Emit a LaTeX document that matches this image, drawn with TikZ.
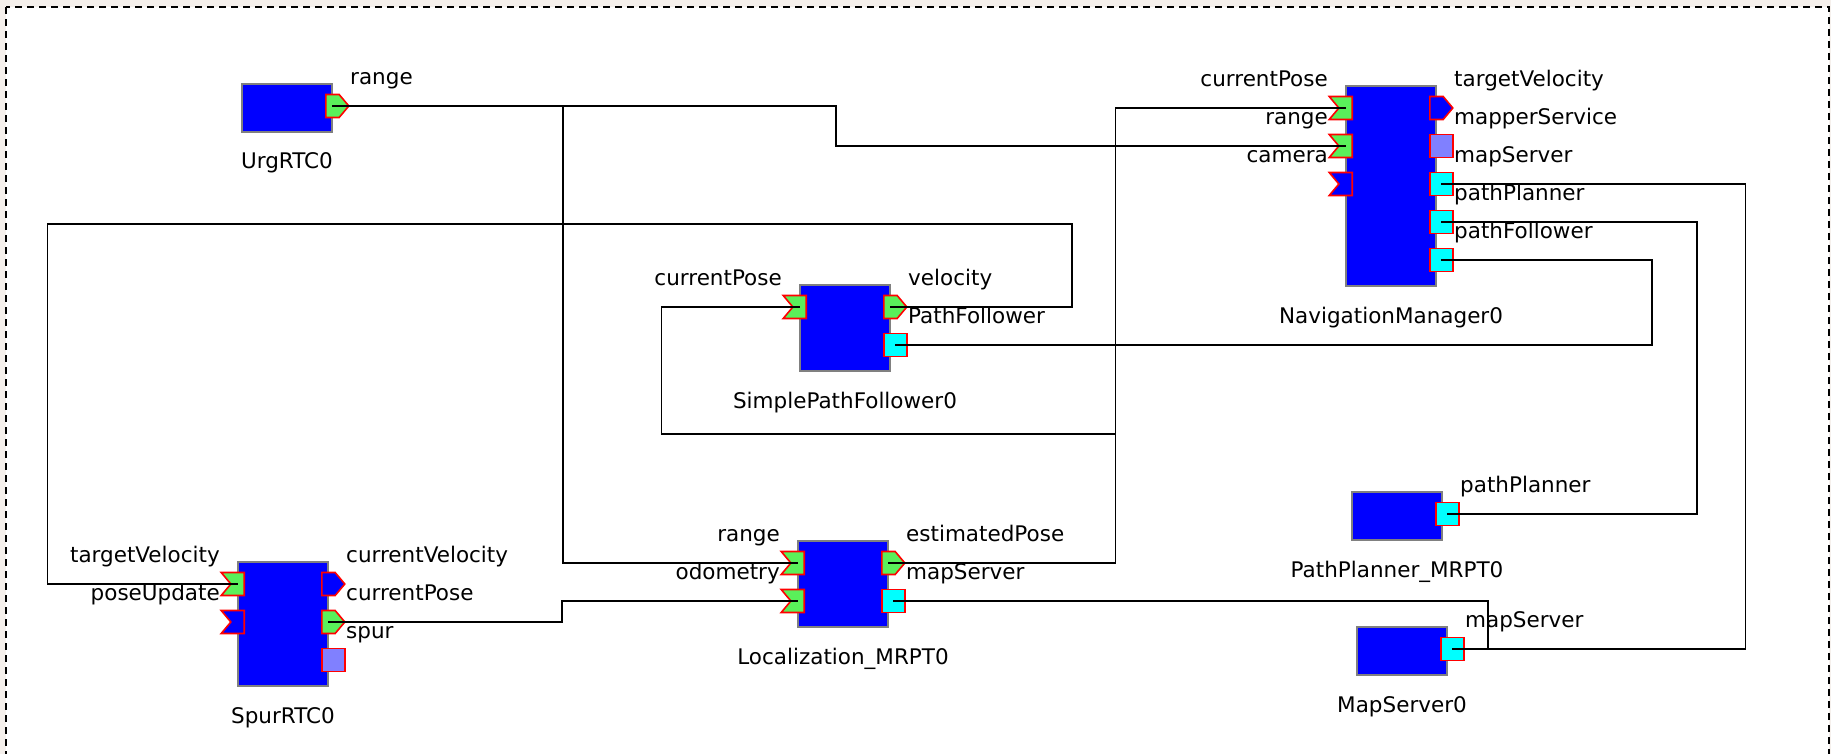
\documentclass[tikz,border=0pt]{standalone}
\usepackage{fontspec}
\setmainfont{DejaVu Sans}
\usepackage{xcolor}
\usepackage{tikz}
\usetikzlibrary{positioning,calc,shapes.symbols}

\definecolor{rtcblue}{RGB}{0,0,255}
\definecolor{rtcedge}{RGB}{128,128,128}
\definecolor{dpgreen}{RGB}{90,240,90}
\definecolor{svccyan}{RGB}{0,255,255}
\definecolor{idlelav}{RGB}{128,128,255}
\definecolor{canvas}{RGB}{245,240,236}

\begin{document}
\begin{tikzpicture}[
  x=1pt, y=-1pt,  % screen pixels, y grows downward
  every node/.style={font=\fontsize{21.5}{26}\selectfont},
  comp/.style={draw=rtcedge, line width=2pt, fill=rtcblue, anchor=north west,
               minimum width=90pt, inner sep=0pt},
  port/.style={draw=red, line width=1.6pt, inner sep=0pt,
               minimum width=23pt, minimum height=23pt},
  inp/.style={port, signal, signal to=nowhere, signal from=west,
              signal pointer angle=100, fill=dpgreen, anchor=east},
  inpidle/.style={inp, fill=rtcblue},
  outp/.style={port, signal, signal to=east, signal pointer angle=100,
               fill=dpgreen, anchor=west},
  outpidle/.style={outp, fill=rtcblue},
  svc/.style={port, fill=svccyan, anchor=west},
  svcidle/.style={svc, fill=idlelav},
  lin/.style={anchor=base east, inner sep=0pt},
  lout/.style={anchor=base west, inner sep=0pt},
  cname/.style={anchor=base, inner sep=0pt},
  wire/.style={line width=1.6pt},
]
  %% canvas + dashed system frame
  \useasboundingbox (0,0) rectangle (1831,754);
  \fill[canvas] (0,0) rectangle (1831,754);
  \clip (0,0) rectangle (1831,754);
  \draw[fill=white, line width=2pt, dash pattern=on 7pt off 5pt]
    (6,7) rectangle (1829,790);

  %% UrgRTC0
  \node[comp, minimum height=48pt] (urg) at (241,83) {};
  \node[cname] at ($(urg.south)+(0,36)$) {UrgRTC0};
  \node[outp] (urgRng) at ($(urg.north east)+(-8,23)$) {};
  \node[lout] at ($(urgRng.west)+(25,-21.5)$) {range};

  %% NavigationManager0
  \node[comp, minimum height=200pt] (nav) at (1345,85) {};
  \node[cname] at ($(nav.south)+(0,36)$) {NavigationManager0};
  \node[inp] (navCur) at ($(nav.north west)+(8,23)$) {};
  \node[lin] at ($(navCur.east)+(-25,-21.5)$) {currentPose};
  \node[inp] (navRng) at ($(nav.north west)+(8,61)$) {};
  \node[lin] at ($(navRng.east)+(-25,-21.5)$) {range};
  \node[inpidle] (navCam) at ($(nav.north west)+(8,99)$) {};
  \node[lin] at ($(navCam.east)+(-25,-21.5)$) {camera};
  \node[outpidle] (navTgt) at ($(nav.north east)+(-8,23)$) {};
  \node[lout] at ($(navTgt.west)+(25,-21.5)$) {targetVelocity};
  \node[svcidle] (navMps) at ($(nav.north east)+(-8,61)$) {};
  \node[lout] at ($(navMps.west)+(25,-21.5)$) {mapperService};
  \node[svc] (navMap) at ($(nav.north east)+(-8,99)$) {};
  \node[lout] at ($(navMap.west)+(25,-21.5)$) {mapServer};
  \node[svc] (navPlan) at ($(nav.north east)+(-8,137)$) {};
  \node[lout] at ($(navPlan.west)+(25,-21.5)$) {pathPlanner};
  \node[svc] (navFol) at ($(nav.north east)+(-8,175)$) {};
  \node[lout] at ($(navFol.west)+(25,-21.5)$) {pathFollower};

  %% SimplePathFollower0
  \node[comp, minimum height=86pt] (spf) at (799,284) {};
  \node[cname] at ($(spf.south)+(0,36)$) {SimplePathFollower0};
  \node[inp] (spfCur) at ($(spf.north west)+(8,23)$) {};
  \node[lin] at ($(spfCur.east)+(-25,-21.5)$) {currentPose};
  \node[outp] (spfVel) at ($(spf.north east)+(-8,23)$) {};
  \node[lout] at ($(spfVel.west)+(25,-21.5)$) {velocity};
  \node[svc] (spfPF) at ($(spf.north east)+(-8,61)$) {};
  \node[lout] at ($(spfPF.west)+(25,-21.5)$) {PathFollower};

  %% Localization_MRPT0
  \node[comp, minimum height=86pt] (loc) at (797,540) {};
  \node[cname] at ($(loc.south)+(0,36)$) {Localization\_MRPT0};
  \node[inp] (locRng) at ($(loc.north west)+(8,23)$) {};
  \node[lin] at ($(locRng.east)+(-25,-21.5)$) {range};
  \node[inp] (locOdo) at ($(loc.north west)+(8,61)$) {};
  \node[lin] at ($(locOdo.east)+(-25,-21.5)$) {odometry};
  \node[outp] (locEst) at ($(loc.north east)+(-8,23)$) {};
  \node[lout] at ($(locEst.west)+(25,-21.5)$) {estimatedPose};
  \node[svc] (locMap) at ($(loc.north east)+(-8,61)$) {};
  \node[lout] at ($(locMap.west)+(25,-21.5)$) {mapServer};

  %% SpurRTC0
  \node[comp, minimum height=124pt] (spur) at (237,561) {};
  \node[cname] at ($(spur.south)+(0,36)$) {SpurRTC0};
  \node[inp] (spurTgt) at ($(spur.north west)+(8,23)$) {};
  \node[lin] at ($(spurTgt.east)+(-25,-21.5)$) {targetVelocity};
  \node[inpidle] (spurUpd) at ($(spur.north west)+(8,61)$) {};
  \node[lin] at ($(spurUpd.east)+(-25,-21.5)$) {poseUpdate};
  \node[outpidle] (spurVel) at ($(spur.north east)+(-8,23)$) {};
  \node[lout] at ($(spurVel.west)+(25,-21.5)$) {currentVelocity};
  \node[outp] (spurCur) at ($(spur.north east)+(-8,61)$) {};
  \node[lout] at ($(spurCur.west)+(25,-21.5)$) {currentPose};
  \node[svcidle] (spurSvc) at ($(spur.north east)+(-8,99)$) {};
  \node[lout] at ($(spurSvc.west)+(25,-21.5)$) {spur};

  %% PathPlanner_MRPT0
  \node[comp, minimum height=48pt] (pp) at (1351,491) {};
  \node[cname] at ($(pp.south)+(0,36)$) {PathPlanner\_MRPT0};
  \node[svc] (ppPlan) at ($(pp.north east)+(-8,23)$) {};
  \node[lout] at ($(ppPlan.west)+(25,-21.5)$) {pathPlanner};

  %% MapServer0
  \node[comp, minimum height=48pt] (ms) at (1356,626) {};
  \node[cname] at ($(ms.south)+(0,36)$) {MapServer0};
  \node[svc] (msMap) at ($(ms.north east)+(-8,23)$) {};
  \node[lout] at ($(msMap.west)+(25,-21.5)$) {mapServer};

  %% data connectors
  \draw[wire] (urgRng.center) -- (836,0 |- urgRng) |- (navRng.center);
  \draw[wire] (urgRng.center) -- (563,0 |- urgRng) |- (locRng.center);
  \draw[wire] (locEst.center) -- (1115.5,0 |- locEst) |- (navCur.center);
  \draw[wire] (locEst.center) -- (1115.5,0 |- locEst) |- (661.5,434)
    |- (spfCur.center);
  \draw[wire] (spfVel.center) -- (1072,0 |- spfVel) |- (47.5,224)
    |- (spurTgt.center);
  \draw[wire] (spurCur.center) -- (562,0 |- spurCur) |- (locOdo.center);

  %% service connectors
  \draw[wire] (spfPF.center) -- (1652,0 |- spfPF) |- (navFol.center);
  \draw[wire] (navMap.center) -- (1745.5,0 |- navMap) |- (msMap.center);
  \draw[wire] (navPlan.center) -- (1697,0 |- navPlan) |- (ppPlan.center);
  \draw[wire] (locMap.center) -- (1488,0 |- locMap) |- (msMap.center);
\end{tikzpicture}
\end{document}
